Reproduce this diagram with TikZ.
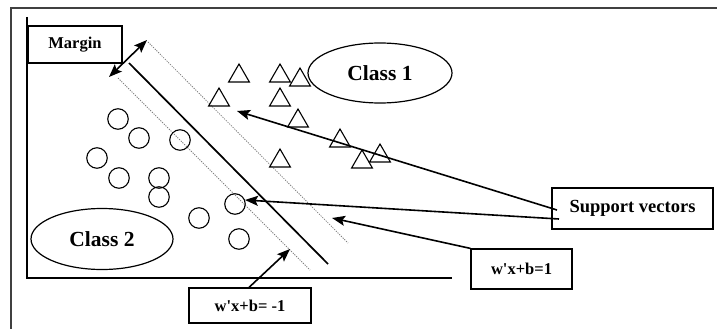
\documentclass[tikz,border=0pt]{standalone}
\usepackage{fontspec}
\setmainfont{Liberation Serif}
\usetikzlibrary{arrows.meta,shapes.geometric}
\begin{document}
\begin{tikzpicture}[x=1pt,y=-1pt,
  tri/.style={draw,regular polygon,regular polygon sides=3,minimum size=24pt,inner sep=0pt,line width=1.1pt},
  dot/.style={draw,circle,minimum size=20.5pt,inner sep=0pt,line width=1.1pt},
  lbl/.style={draw,line width=1.2pt,inner sep=0pt,font=\bfseries\fontsize{16.5}{18}\selectfont},
  cls/.style={draw,ellipse,line width=1.2pt,inner sep=0pt,font=\bfseries\fontsize{21.5}{24}\selectfont},
  arr/.style={line width=1.6pt,-{Stealth[length=13pt,width=10pt,inset=2.5pt]}},
  dbl/.style={line width=1.6pt,{Stealth[length=13pt,width=10pt,inset=2.5pt]}-{Stealth[length=13pt,width=10pt,inset=2.5pt]}},
  marg/.style={draw=gray,line width=0.8pt,dash pattern=on 1.2pt off 1.2pt},
  hyper/.style={line width=1.7pt}
]
\useasboundingbox (0,0) rectangle (717,329);
% frame and axes
\draw[line width=1.2pt, black!75] (11,329) -- (11,8) -- (717,8);
\draw[line width=1.6pt] (27,17) -- (27,278) -- (452,278);

% hyperplane and margins
\coordinate (h1) at (129,63);  \coordinate (h2) at (328,264);
\coordinate (u1) at (148,42);  \coordinate (u2) at (348,243);
\coordinate (l1) at (118,78);  \coordinate (l2) at (310,270);
\draw[hyper] (h1) -- (h2);
\draw[marg] (u1) -- (u2);
\draw[marg] (l1) -- (l2);

% margin label and arrow
\node[lbl,minimum width=94pt,minimum height=37pt] (margin) at (75,44.5) {Margin};
\coordinate (ma) at (109,77); \coordinate (mb) at (147,40);
\draw[dbl] (ma) -- (mb);

% class 1 triangles
\node[tri] (t1) at (239,76) {};
\node[tri] (t2) at (280,76) {};
\node[tri] (t3) at (300,80) {};
\node[tri] (t4) at (219,100) {};
\node[tri] (t5) at (280,100) {};
\node[tri] (t6) at (298,121) {};
\node[tri] (t7) at (340,141) {};
\node[tri] (t8) at (362,162) {};
\node[tri] (t9) at (380,156) {};
\node[tri] (t10) at (280,161) {};

% class 2 circles
\node[dot] (c1) at (118,119) {};
\node[dot] (c2) at (139,138) {};
\node[dot] (c3) at (180,140) {};
\node[dot] (c4) at (97,158) {};
\node[dot] (c5) at (119,178) {};
\node[dot] (c6) at (159,178) {};
\node[dot] (c7) at (159,197) {};
\node[dot] (c8) at (235,204) {};
\node[dot] (c9) at (199,218) {};
\node[dot] (c10) at (239,239) {};

% class ellipses
\node[cls,minimum width=144pt,minimum height=60pt] (class1) at (380,73) {Class 1};
\node[cls,minimum width=142pt,minimum height=61pt] (class2) at (102,239) {Class 2};

% labels
\node[lbl,minimum width=161pt,minimum height=41pt,font=\bfseries\fontsize{18.5}{20}\selectfont] (sv) at (632.5,208.5) {Support vectors};
\node[lbl,minimum width=101pt,minimum height=40pt] (wp) at (521.5,269) {w\textquotesingle x+b=1};
\node[lbl,minimum width=122pt,minimum height=35pt] (wm) at (250,305.5) {w\textquotesingle x+b= -1};

% arrows
\coordinate (s1) at (557,210); \coordinate (tipA) at (237,111);
\coordinate (s2) at (559,219); \coordinate (tipB) at (245,200);
\coordinate (tipC) at (332,218);
\coordinate (tipD) at (290,249);
\draw[arr] (s1) -- (tipA);
\draw[arr] (s2) -- (tipB);
\draw[arr] (wp.north west) -- (tipC);
\draw[arr] ([xshift=-1pt]wm.north) -- (tipD);
\end{tikzpicture}
\end{document}
